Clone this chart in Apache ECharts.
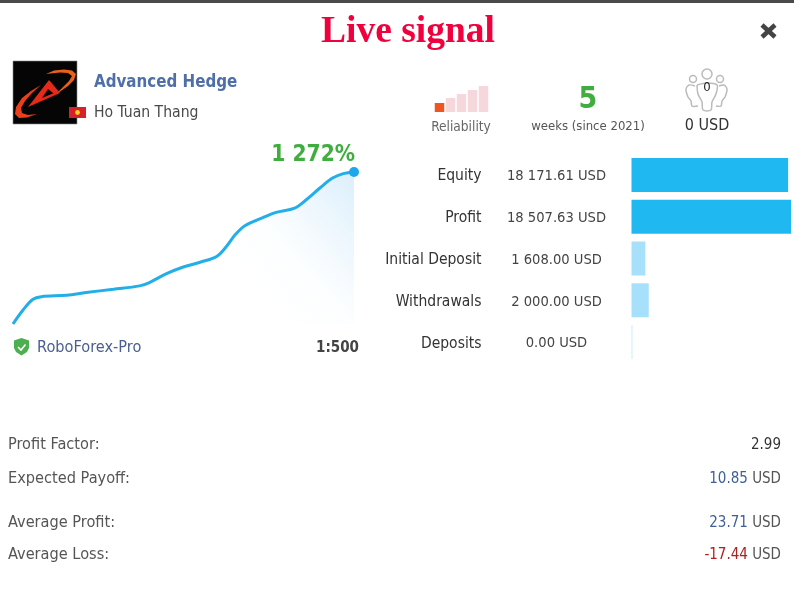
<!DOCTYPE html>
<html><head><meta charset="utf-8">
<style>html,body{margin:0;padding:0;background:#fff}#c{width:794px;height:595px}</style>
<script src="https://cdn.jsdelivr.net/npm/echarts@6/dist/echarts.min.js"></script>
</head><body><div id="c"></div>
<script>
const FONT = '"DejaVu Sans Condensed","DejaVu Sans",sans-serif';
// growth curve: day since start, growth %
const growthDays = [0,1.03,2.05,2.9,5.5,7.5,10.3,13,14,15.7,17.4,19.2,20.9,21.9,22.8,23.8,25.7,27,28.9,30.1,31.5,32.8,33.9,35];
const growthPct = [0,117,207,229,240,263,291,319,347,419,475,517,565,648,746,822,892,934,970,1040,1138,1221,1258,1272];
// balance bars
const barNames = ['Equity','Profit','Initial Deposit','Withdrawals','Deposits'];
const barValues = [18171.61,18507.63,1608.00,2000.00,0.00];
const barLabels = ['18 171.61 USD','18 507.63 USD','1 608.00 USD','2 000.00 USD','0.00 USD'];
// reliability meter
const relLevels = ['1','2','3','4','5'];
const relValues = [9,14,18,22,26];
// statistics
const statNames = ['Profit Factor:','Expected Payoff:','Average Profit:','Average Loss:'];
const statNumbers = ['2.99','10.85','23.71','-17.44'];
const statUnits = ['',' USD',' USD',' USD'];
const statStyles = ['dark','blue','blue','red'];

function text(x,y,t,o){return {type:'text',x,y,silent:true,style:Object.assign({text:t,font:'14px '+FONT,fill:'#444',textAlign:'left',textVerticalAlign:'middle'},o||{})};}
function poly(points,fill){return {type:'polygon',silent:true,shape:{points},style:{fill}};}
function outline(points,color,w){return {type:'polyline',silent:true,shape:{points,smooth:0.3},style:{stroke:color,lineWidth:w,fill:null}};}
const statY=[445,479,523,555];
const graphics=[
 {type:'rect',shape:{x:0,y:0,width:794,height:3},style:{fill:'#4a4a4a'}},
 text(408,32,'Live signal',{font:'bold 37.5px "Liberation Serif",serif',fill:'#f0003c',textAlign:'center'}),
 {type:'line',shape:{x1:762,y1:25,x2:775,y2:37},style:{stroke:'#444',lineWidth:4.5}},
 {type:'line',shape:{x1:775,y1:25,x2:762,y2:37},style:{stroke:'#444',lineWidth:4.5}},
 // logo
 {type:'rect',shape:{x:13,y:61,width:64,height:63},style:{fill:'#050505',stroke:'#888',lineWidth:0.6}},
 poly([[46,74],[54,70.5],[64,69.5],[72,70.5],[76,74],[74,80],[68,86],[58,93],[56,94],[63,87],[69,81],[72,76],[68,73],[60,72.5]],'#e8601c'),
 poly([[41,85],[31,91],[22,98],[16,107],[15,114],[19,118],[27,117.5],[37,114],[28,115],[22,113],[21,108],[25,101],[32,93]],'#e8401c'),
 poly([[49,80],[28,107],[60,93],[54,93],[42,98],[48,89],[53,93],[60,93]],'#e62a1a'),
 {type:'rect',shape:{x:69,y:107,width:17,height:11},style:{fill:'#d8202a'}},
 {type:'circle',shape:{cx:77.5,cy:112.5,r:2.4},style:{fill:'#f7d417'}},
 text(94,83,'Advanced Hedge',{font:'bold 16.8px '+FONT,fill:'#4f6fa8'}),
 text(94,113,'Ho Tuan Thang',{font:'15.6px '+FONT,fill:'#4a4a4a'}),
 text(355,155,'1 272%',{font:'bold 22.5px '+FONT,fill:'#3fae3f',textAlign:'right'}),
 // shield
 poly([[21.5,338],[29,340.5],[29,348],[27,352],[21.5,355.5],[16,352],[14,348],[14,340.5]],'#4caf50'),
 {type:'polyline',shape:{points:[[18,347],[21,350],[25.5,344.5]]},style:{stroke:'#fff',lineWidth:1.6,fill:null}},
 text(37,348,'RoboForex-Pro',{font:'16.2px '+FONT,fill:'#4a5f8f'}),
 text(359,348,'1:500',{font:'bold 15px '+FONT,fill:'#444',textAlign:'right'}),
 text(461,127,'Reliability',{font:'13.6px '+FONT,fill:'#666',textAlign:'center'}),
 text(588,100,'5',{font:'bold 30px '+FONT,fill:'#3fae3f',textAlign:'center'}),
 text(588,127,'weeks (since 2021)',{font:'13px '+FONT,fill:'#555',textAlign:'center'}),
 // investors icon
 {type:'circle',shape:{cx:707,cy:74,r:5},style:{fill:'none',stroke:'#bbb',lineWidth:1.5}},
 {type:'circle',shape:{cx:693,cy:79,r:3.5},style:{fill:'none',stroke:'#bbb',lineWidth:1.5}},
 {type:'circle',shape:{cx:720,cy:79,r:3.5},style:{fill:'none',stroke:'#bbb',lineWidth:1.5}},
 outline([[697,85],[707,83],[717,85],[716,94],[712,102],[711,110],[703,110],[702,102],[698,94],[697,85]],'#bbb',1.5),
 outline([[695,86],[689,85],[686,89],[688,97],[691,101],[692,106],[698,106]],'#bbb',1.5),
 outline([[719,86],[724,85],[727,89],[725,97],[722,101],[721,106],[716,106]],'#bbb',1.5),
 text(707,88,'0',{font:'13px '+FONT,fill:'#222',textAlign:'center'}),
 text(707,126,'0 USD',{font:'16px '+FONT,fill:'#333',textAlign:'center'})
];
statNames.forEach((n,i)=>{
 graphics.push(text(8,statY[i],n,{font:'16.2px '+FONT,fill:'#555'}));
 graphics.push({type:'text',x:781,y:statY[i],silent:true,style:{
   text:'{'+statStyles[i]+'|'+statNumbers[i]+'}'+(statUnits[i]?'{unit|'+statUnits[i]+'}':''),
   textAlign:'right',textVerticalAlign:'middle',font:'15px '+FONT,
   rich:{dark:{font:'15px '+FONT,fill:'#333'},blue:{font:'15px '+FONT,fill:'#3f5f96'},
         red:{font:'15px '+FONT,fill:'#b02020'},unit:{font:'15px '+FONT,fill:'#555'}}
 }});
});

const chart=echarts.init(document.getElementById('c'),null,{renderer:'canvas'});
chart.setOption({
 animation:false,
 backgroundColor:'#fff',
 graphic:{elements:graphics},
 grid:[
  {left:13,top:172,width:341,height:152},
  {left:631.5,top:154,width:159.5,height:209},
  {left:434,top:86,width:55,height:26},
  {left:631.5,top:155.5,width:159.5,height:209}
 ],
 xAxis:[
  {gridIndex:0,type:'value',min:0,max:35,show:false},
  {gridIndex:1,type:'value',min:0,max:18507.63,show:false},
  {gridIndex:2,type:'category',data:relLevels,show:false},
  {gridIndex:3,type:'value',min:0,max:18507.63,show:false}
 ],
 yAxis:[
  {gridIndex:0,type:'value',min:0,max:1272,show:false},
  {gridIndex:1,type:'category',inverse:true,data:barNames,show:false},
  {gridIndex:3,type:'category',inverse:true,data:barNames,axisLine:{show:false},axisTick:{show:false},
   axisLabel:{margin:150,fontFamily:FONT,fontSize:15.5,color:'#333',align:'right'}},
  {gridIndex:3,type:'category',inverse:true,data:barLabels,position:'left',axisLine:{show:false},axisTick:{show:false},
   axisLabel:{margin:75,fontFamily:FONT,fontSize:14.6,color:'#444',align:'center'}},
  {gridIndex:2,type:'value',min:0,max:26,show:false}
 ],
 series:[
  {type:'line',xAxisIndex:0,yAxisIndex:0,data:growthDays.map((d,i)=>[d,growthPct[i]]),smooth:0.35,
   lineStyle:{color:'#22aee8',width:3},
   symbol:'none',
   markPoint:{silent:true,symbol:'circle',symbolSize:10,itemStyle:{color:'#1ea7ec'},label:{show:false},
     data:[{coord:[growthDays[growthDays.length-1],growthPct[growthPct.length-1]]}]},
   areaStyle:{color:new echarts.graphic.LinearGradient(1,0,0.6,0.8,[{offset:0,color:'rgba(190,225,248,0.8)'},{offset:0.35,color:'rgba(205,232,250,0.4)'},{offset:0.55,color:'rgba(220,240,252,0.14)'},{offset:0.95,color:'rgba(235,246,253,0)'}])}},
  {type:'bar',xAxisIndex:1,yAxisIndex:1,barWidth:34,barMinHeight:1,
   data:barValues.map((v,i)=>({value:v,itemStyle:{color:i<2?'#20b8f0':(i<4?'#a6e0fa':'#cdeefc')}}))},
  {type:'bar',xAxisIndex:2,yAxisIndex:4,barWidth:9.5,
   data:relValues.map((v,i)=>({value:v,itemStyle:{color:i===0?'#ee5522':'#f6d8dc'}}))}
 ]
});
</script></body></html>
